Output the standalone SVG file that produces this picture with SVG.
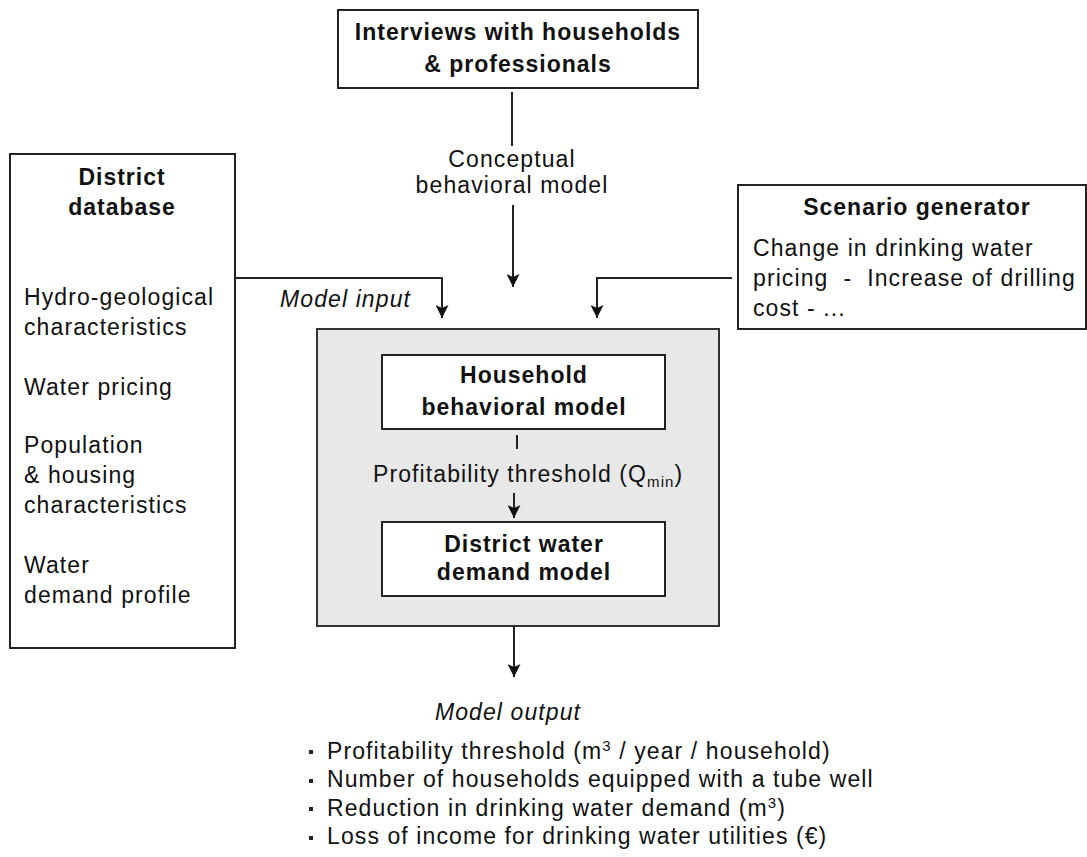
<svg xmlns="http://www.w3.org/2000/svg" width="1087" height="857" viewBox="0 0 1087 857">
<style>
  text { font-family: "Liberation Sans", Arial, sans-serif; font-size: 23px; fill: #111; letter-spacing: 1.1px; }
  .b { font-weight: bold; letter-spacing: 1px; }
  .i { font-style: italic; }
  .box { fill: #fff; stroke: #222; stroke-width: 2; }
  .gray { fill: #e8e8e8; stroke: #333; stroke-width: 2; }
  .ln { fill: none; stroke: #222; stroke-width: 2; }
  .bul { fill: #222; }
</style>
<defs>
  <marker id="ah" viewBox="0 0 13 13" refX="13" refY="6.5" markerWidth="13" markerHeight="13" markerUnits="userSpaceOnUse" orient="auto">
    <path d="M0,0 L13,6.5 L0,13 L3,6.5 z" fill="#111"/>
  </marker>
</defs>
<rect width="1087" height="857" fill="#fff"/>

<g id="model-container">
  <rect class="gray" x="317" y="329" width="402" height="297"/>
</g>

<g id="interviews">
  <rect class="box" x="338" y="10" width="360" height="78"/>
  <text class="b" x="518" y="40" text-anchor="middle">Interviews with households</text>
  <text class="b" x="518" y="72" text-anchor="middle">&amp; professionals</text>
</g>

<g id="district-database">
  <rect class="box" x="10" y="154" width="225" height="494"/>
  <text class="b" x="122" y="185" text-anchor="middle">District</text>
  <text class="b" x="122" y="215" text-anchor="middle">database</text>
  <text x="24" y="305">Hydro-geological</text>
  <text x="24" y="335">characteristics</text>
  <text x="24" y="395">Water pricing</text>
  <text x="24" y="453">Population</text>
  <text x="24" y="483">&amp; housing</text>
  <text x="24" y="513">characteristics</text>
  <text x="24" y="573">Water</text>
  <text x="24" y="603">demand profile</text>
</g>

<g id="scenario-generator">
  <rect class="box" x="738" y="185" width="348" height="144"/>
  <text class="b" x="917" y="215" text-anchor="middle">Scenario generator</text>
  <text x="753" y="256">Change in drinking water</text>
  <text x="753" y="286" xml:space="preserve">pricing  -  Increase of drilling</text>
  <text x="753" y="316">cost - ...</text>
</g>

<g id="household-model">
  <rect class="box" x="382" y="355" width="283" height="74"/>
  <text class="b" x="524" y="383" text-anchor="middle">Household</text>
  <text class="b" x="524" y="415" text-anchor="middle">behavioral model</text>
</g>

<g id="district-demand-model">
  <rect class="box" x="382" y="522" width="283" height="74"/>
  <text class="b" x="524" y="552" text-anchor="middle">District water</text>
  <text class="b" x="524" y="580" text-anchor="middle">demand model</text>
</g>

<g id="connectors">
  <line class="ln" x1="512" y1="92" x2="512" y2="146"/>
  <line class="ln" x1="513" y1="205" x2="513" y2="287" marker-end="url(#ah)"/>
  <polyline class="ln" points="235,278 442,278 442,318" marker-end="url(#ah)"/>
  <polyline class="ln" points="732,278 597,278 597,318" marker-end="url(#ah)"/>
  <line class="ln" x1="517" y1="435" x2="517" y2="449"/>
  <line class="ln" x1="514" y1="493" x2="514" y2="518" marker-end="url(#ah)"/>
  <line class="ln" x1="514" y1="626" x2="514" y2="677" marker-end="url(#ah)"/>
</g>

<g id="labels">
  <text x="512" y="167" text-anchor="middle">Conceptual</text>
  <text x="512" y="193" text-anchor="middle">behavioral model</text>
  <text class="i" x="280" y="307">Model input</text>
  <text x="373" y="482">Profitability threshold (Q<tspan font-size="15" dy="5">min</tspan><tspan dy="-5">)</tspan></text>
  <text class="i" x="508" y="720" text-anchor="middle">Model output</text>
</g>

<g id="model-output">
  <rect class="bul" x="309" y="750" width="4" height="4"/>
  <rect class="bul" x="309" y="779" width="4" height="4"/>
  <rect class="bul" x="309" y="807" width="4" height="4"/>
  <rect class="bul" x="309" y="836" width="4" height="4"/>
  <text x="327" y="759">Profitability threshold (m<tspan font-size="15" dy="-8">3</tspan><tspan dy="8"> / year / household)</tspan></text>
  <text x="327" y="787">Number of households equipped with a tube well</text>
  <text x="327" y="816">Reduction in drinking water demand (m<tspan font-size="15" dy="-8">3</tspan><tspan dy="8">)</tspan></text>
  <text x="327" y="844">Loss of income for drinking water utilities (€)</text>
</g>
</svg>
